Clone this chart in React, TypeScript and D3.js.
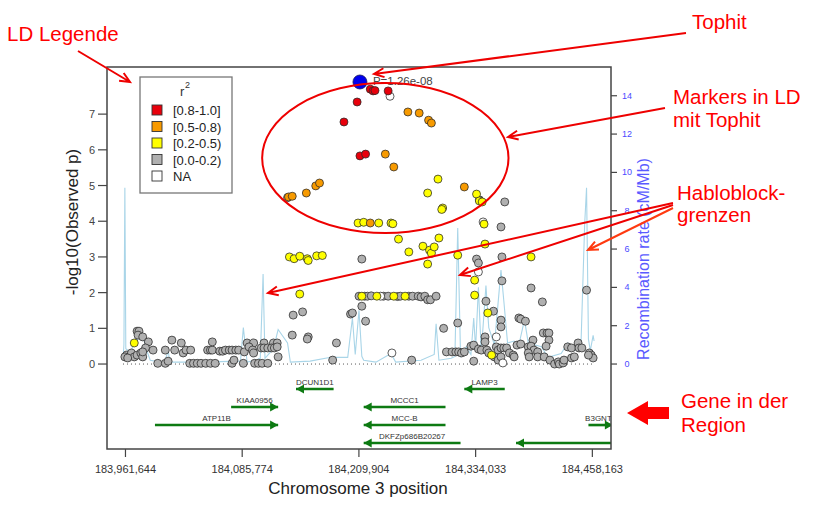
import React from "react";
import * as d3 from "d3";

const W = 813;
const H = 506;
const FONT = "'Liberation Sans', Arial, Helvetica, sans-serif";

// axes
const xTickBp = [183961644, 184085774, 184209904, 184334033, 184458163];
const logPTicks = [0, 1, 2, 3, 4, 5, 6, 7];
const recTicks = [0, 2, 4, 6, 8, 10, 12, 14];

// LD legend
const ldLabels = ["[0.8-1.0]", "[0.5-0.8)", "[0.2-0.5)", "[0.0-0.2)", "NA"];
const ldColors = ["#e8000b", "#f79a00", "#ffff00", "#b0b0b0", "#ffffff"];

// markers, position in kb, value = -log10(p)
const redPos = [184222, 184225, 184227, 184241, 184208, 184194, 184211, 184217];
const redLogP = [7.7, 7.65, 7.66, 7.65, 7.34, 6.78, 5.83, 5.88];

const orangePos = [184262, 184274, 184284, 184287, 184238, 184247, 184135, 184139, 184154, 184164, 184168, 184222, 184322];
const orangeLogP = [7.06, 7.03, 6.83, 6.75, 5.88, 5.52, 4.68, 4.7, 4.79, 4.99, 5.07, 3.95, 4.96];

const yellowPos = [
  184209, 184215, 184231, 184244, 184246, 184294, 184283, 184335, 184338, 184341, 184299, 184298, 184343,
  184252, 184263, 184278, 184285, 184287, 184290, 184295, 184283, 184315, 184344, 184333, 184333, 184347, 184393,
  184136, 184141, 184147, 184155, 184156, 184165, 184171, 184147, 183971, 184213, 184229, 184247, 184259, 184351,
];
const yellowLogP = [
  3.95, 3.97, 3.95, 3.95, 3.93, 5.18, 4.79, 4.76, 4.57, 4.54, 4.37, 4.33, 3.92,
  3.5, 3.14, 3.3, 3.19, 3.1, 3.28, 3.53, 2.8, 3.05, 3.36, 2.35, 1.93, 1.43, 3.0,
  3.0, 2.95, 3.02, 2.95, 2.9, 3.03, 3.04, 1.96, 0.59, 1.9, 1.9, 1.9, 1.9, 0.25,
];

const naPos = [184243, 184342, 184337, 184233, 184245, 184356, 184363];
const naLogP = [7.5, 3.98, 2.58, 1.9, 0.31, 0.76, 0.03];

const grayPos = [
  184213, 184335, 184337, 184362, 184361, 184365, 184338, 184362, 184393, 184405, 184345, 184353, 184361, 184361,
  184380, 184382, 184387, 184452, 184300, 184315, 184140, 184150, 184139, 184156, 184155, 184186, 184182, 184201,
  184203, 184213, 184217, 184134,
  184210, 184216, 184219, 184223, 184236, 184241, 184251, 184254, 184263, 184267, 184273, 184276, 184280, 184283,
  184286, 184292,
  183974, 183976, 183975, 183980, 183986, 183963, 183968, 183971, 183974, 183978, 183980, 183983, 183980, 183961,
  183964, 183991, 184004, 184011, 184014, 184021, 184023, 184026, 184031, 183996, 184004, 184007, 184030, 184034,
  184038, 184042, 184047, 184052, 184057, 184049, 184052, 184054, 184054, 184062, 184065, 184068, 184072, 184075,
  184079, 184082, 184075, 184077, 184087, 184088, 184091, 184098, 184093, 184097, 184098, 184099, 184103, 184107,
  184113, 184109, 184119, 184123, 184106, 184109, 184113, 184117, 184120, 184123, 184124,
  184344, 184344, 184329, 184332, 184303, 184309, 184313, 184316, 184319, 184322, 184266, 184332, 184337, 184340,
  184346, 184348, 184356, 184358, 184361, 184364, 184367, 184370, 184374, 184375, 184354, 184358, 184361, 184378,
  184382, 184390, 184395, 184393, 184396, 184400, 184406, 184410, 184412, 184412, 184409, 184390, 184391, 184400,
  184407, 184413, 184418, 184422, 184423, 184427, 184428, 184436, 184439, 184432, 184436, 184443, 184444, 184447,
  184455, 184457, 184459, 184454,
];
const grayLogP = [
  2.94, 2.94, 2.83, 3.0, 3.84, 4.54, 4.6, 2.33, 2.13, 1.74, 1.76, 1.48, 1.23, 1.04,
  1.29, 1.26, 1.2, 2.07, 1.0, 1.15, 1.37, 1.46, 0.81, 0.76, 0.7, 0.59, 0.11, 1.4,
  1.43, 1.62, 1.2, 4.66,
  1.9, 1.9, 1.9, 1.91, 1.9, 1.9, 1.89, 1.9, 1.9, 1.9, 1.9, 1.88, 1.9, 1.8,
  1.8, 1.9,
  0.92, 0.92, 0.81, 0.76, 0.62, 0.25, 0.31, 0.2, 0.25, 0.31, 0.2, 0.45, 0.34, 0.2,
  0.17, 0.39, 0.39, 0.67, 0.39, 0.59, 0.31, 0.39, 0.39, 0.02, 0.02, 0.08, 0.02, 0.02,
  0.02, 0.02, 0.02, 0.02, 0.02, 0.39, 0.39, 0.39, 0.62, 0.36, 0.36, 0.39, 0.39, 0.39,
  0.39, 0.39, 0.02, 0.11, 0.02, 0.34, 0.59, 0.59, 0.48, 0.39, 0.31, 0.02, 0.02, 0.02,
  0.02, 0.59, 0.59, 0.59, 0.45, 0.45, 0.45, 0.45, 0.45, 0.48, 0.2,
  0.76, 0.62, 0.5, 0.53, 0.34, 0.34, 0.34, 0.34, 0.31, 0.34, 0.11, 0.08, 0.42, 0.39,
  0.39, 0.31, 0.48, 0.39, 0.45, 0.45, 0.45, 0.31, 0.25, 0.2, 0.2, 0.11, 0.2, 0.53,
  0.56, 0.48, 0.67, 0.5, 0.39, 0.34, 0.87, 0.87, 0.87, 0.67, 0.5, 0.31, 0.2, 0.2,
  0.2, 0.11, 0.0, 0.06, 0.0, 0.03, 0.11, 0.17, 0.2, 0.48, 0.45, 0.59, 0.45, 0.45,
  0.31, 0.25, 0.17, 0.25,
];

const topPos = 184211;
const topLogP = 7.9;
const topLabel = "P=1.26e-08";

// recombination rate (cM/Mb)
const recPos = [
  183959, 183960, 183961, 183962, 183967, 183972, 183980, 183985, 183988, 183999, 184004, 184007, 184009, 184041,
  184084, 184087, 184091, 184100, 184105, 184108, 184110, 184119, 184124, 184134, 184137, 184158, 184180, 184198,
  184203, 184206, 184210, 184213, 184215, 184228, 184244, 184249, 184276, 184290, 184292, 184295, 184308, 184312,
  184315, 184318, 184324, 184329, 184332, 184334, 184337, 184340, 184345, 184348, 184354, 184361, 184364, 184368,
  184375, 184380, 184386, 184390, 184404, 184411, 184425, 184432, 184439, 184446, 184450, 184452, 184454, 184456,
  184459, 184460,
];
const recRate = [
  0.2, 1.0, 9.2, 0.8, 0.6, 1.2, 1.5, 0.6, 0.2, 0.1, 0.2, 0.7, 0.1, 0.1,
  0.15, 1.9, 0.1, 0.2, 0.3, 4.7, 0.3, 0.8, 1.8, 1.1, 0.1, 0.15, 0.35, 0.35,
  2.4, 0.5, 2.8, 0.4, 0.2, 0.1, 0.55, 0.1, 0.2, 0.5, 2.1, 0.2, 0.3, 0.4,
  7.1, 0.4, 0.9, 0.5, 2.4, 0.8, 4.0, 0.6, 4.1, 1.9, 1.0, 4.9, 3.3, 1.1,
  1.2, 1.0, 2.3, 1.1, 0.9, 0.35, 0.55, 1.1, 0.7, 0.9, 7.3, 9.2, 1.3, 0.7,
  1.5, 1.2,
];

// genes (kb), strand +1 = arrow right
const geneNames = ["DCUN1D1", "LAMP3", "KIAA0956", "MCCC1", "ATP11B", "MCC-B", "B3GNT5", "DKFZp686B20267", ""];
const geneStart = [184143, 184322, 184074, 184215, 183993, 184215, 184454, 184215, 184377];
const geneEnd = [184183, 184365, 184124, 184302, 184124, 184302, 184480, 184318, 184520];
const geneStrand = [-1, -1, 1, -1, 1, -1, 1, -1, -1];
const geneRow = [0, 0, 1, 1, 2, 2, 2, 3, 3];

// callout annotations (page layout)
const calloutArrows = [
  [78, 51, 130, 82],
  [686, 33, 374, 74],
  [665, 108, 508, 137],
  [673, 203, 268, 293],
  [673, 205, 460, 275],
  [673, 208, 588, 250],
];
const calloutTexts: [string, number, number][] = [
  ["LD Legende", 7, 41],
  ["Tophit", 692, 29],
  ["Markers in LD", 673, 104],
  ["mit Tophit", 673, 127],
  ["Habloblock-", 677, 200],
  ["grenzen", 677, 222],
  ["Gene in der", 681, 408],
  ["Region", 681, 432],
];

const margin = { left: 107, right: 611, top: 67, bottom: 449 };

function arrowPath(x1: number, y1: number, x2: number, y2: number) {
  const a = Math.atan2(y2 - y1, x2 - x1);
  const len = 11;
  const s = 0.42;
  const ax = x2 - len * Math.cos(a - s);
  const ay = y2 - len * Math.sin(a - s);
  const bx = x2 - len * Math.cos(a + s);
  const by = y2 - len * Math.sin(a + s);
  return `M${x1},${y1}L${x2},${y2}M${ax},${ay}L${x2},${y2}L${bx},${by}`;
}

export default function App() {
  const xScale = d3.scaleLinear().domain([183942, 184478]).range([margin.left, margin.right]);
  const yScale = d3.scaleLinear().domain([-2.38, 8.32]).range([margin.bottom, margin.top]);
  const recScale = d3.scaleLinear().domain([0, 15.5]).range([yScale(0), margin.top]);
  const y0 = yScale(0);

  const recLine = d3
    .line<number>()
    .x((_, i) => xScale(recPos[i]))
    .y((d) => recScale(d));

  const groups = [
    { pos: grayPos, val: grayLogP, color: ldColors[3] },
    { pos: naPos, val: naLogP, color: ldColors[4] },
    { pos: yellowPos, val: yellowLogP, color: ldColors[2] },
    { pos: orangePos, val: orangeLogP, color: ldColors[1] },
    { pos: redPos, val: redLogP, color: ldColors[0] },
  ];

  const geneY = (row: number) => y0 + 25 + row * 18;
  const green = "#0d7a12";

  // ellipse around markers in LD with the top hit
  const ellX = 184238;
  const ellY = 5.77;
  const ellRx = xScale(ellX + 131) - xScale(ellX);
  const ellRy = yScale(ellY) - yScale(ellY + 2.1);

  return (
    <svg
      width={W}
      height={H}
      style={{ position: "fixed", left: 0, top: 0, background: "#fff", fontFamily: FONT }}
    >
      <defs>
        <clipPath id="plotClip">
          <rect x={margin.left} y={margin.top} width={margin.right - margin.left} height={margin.bottom - margin.top} />
        </clipPath>
      </defs>

      <g clipPath="url(#plotClip)">
        <path d={recLine(recRate) || ""} fill="none" stroke="#a9d5e8" strokeWidth={1.1} />
        <line
          x1={xScale(183959)}
          x2={xScale(184460)}
          y1={y0}
          y2={y0}
          stroke="#555"
          strokeWidth={1}
          strokeDasharray="1 3"
        />
        {groups.map((g, gi) =>
          g.pos.map((p, i) => (
            <circle
              key={`${gi}-${i}`}
              cx={xScale(p)}
              cy={yScale(g.val[i])}
              r={4}
              fill={g.color}
              stroke="#2a2a2a"
              strokeOpacity={0.85}
              strokeWidth={0.9}
            />
          ))
        )}
        <circle cx={xScale(topPos)} cy={yScale(topLogP)} r={7} fill="#0000ee" stroke="#1a1a5a" strokeWidth={0.8} />
        <text x={xScale(topPos) + 13} y={yScale(topLogP) + 3} fontSize={11.5} fill="#444">
          {topLabel}
        </text>

        {geneNames.map((name, i) => {
          const xs = xScale(geneStart[i]);
          const xe = xScale(geneEnd[i]);
          const y = geneY(geneRow[i]);
          const tip = geneStrand[i] > 0 ? xe : xs;
          const dir = geneStrand[i] > 0 ? 1 : -1;
          return (
            <g key={i}>
              <line x1={xs} x2={xe} y1={y} y2={y} stroke={green} strokeWidth={2.6} />
              <path
                d={`M${tip},${y}L${tip - dir * 8},${y - 4.5}L${tip - dir * 8},${y + 4.5}Z`}
                fill={green}
              />
              {name && (
                <text x={(xs + xe) / 2} y={y - 4} fontSize={8} textAnchor="middle" fill="#333">
                  {name}
                </text>
              )}
            </g>
          );
        })}
      </g>

      {/* frame */}
      <rect
        x={margin.left}
        y={margin.top}
        width={margin.right - margin.left}
        height={margin.bottom - margin.top}
        fill="none"
        stroke="#444"
        strokeWidth={1.5}
      />

      {/* left axis */}
      {logPTicks.map((t) => (
        <g key={t}>
          <line x1={margin.left - 9} x2={margin.left} y1={yScale(t)} y2={yScale(t)} stroke="#444" strokeWidth={1.2} />
          <text x={margin.left - 15} y={yScale(t) + 4} fontSize={11} textAnchor="middle" fill="#444">
            {t}
          </text>
        </g>
      ))}
      <text
        transform={`translate(78,222) rotate(-90)`}
        fontSize={17}
        textAnchor="middle"
        fill="#222"
      >
        -log10(Observed p)
      </text>

      {/* right axis */}
      {recTicks.map((t) => (
        <g key={t}>
          <line x1={margin.right} x2={margin.right + 6} y1={recScale(t)} y2={recScale(t)} stroke="#444" strokeWidth={1.2} />
          <text x={margin.right + 16} y={recScale(t) + 3} fontSize={9} textAnchor="middle" fill="#4a4aff">
            {t}
          </text>
        </g>
      ))}
      <text
        transform={`translate(649,259) rotate(-90)`}
        fontSize={16}
        textAnchor="middle"
        fill="#5a5aff"
      >
        Recombination rate (cM/Mb)
      </text>

      {/* bottom axis */}
      {xTickBp.map((t) => (
        <g key={t}>
          <line
            x1={xScale(t / 1000)}
            x2={xScale(t / 1000)}
            y1={margin.bottom}
            y2={margin.bottom + 8}
            stroke="#444"
            strokeWidth={1.2}
          />
          <text x={xScale(t / 1000)} y={margin.bottom + 24} fontSize={11} textAnchor="middle" fill="#333">
            {d3.format(",")(t)}
          </text>
        </g>
      ))}
      <text x={358} y={494} fontSize={17} textAnchor="middle" fill="#222">
        Chromosome 3 position
      </text>

      {/* LD legend */}
      <g>
        <rect x={140} y={77} width={92} height={116} fill="#fff" stroke="#777" strokeWidth={1.3} />
        <text x={180} y={96} fontSize={13} fill="#333">
          r
        </text>
        <text x={185} y={88} fontSize={9} fill="#333">
          2
        </text>
        {ldLabels.map((l, i) => (
          <g key={l}>
            <rect x={152} y={105 + i * 16.5} width={10} height={10} fill={ldColors[i]} stroke="#333" strokeWidth={0.9} />
            <text x={173} y={115 + i * 16.5} fontSize={13} fill="#222">
              {l}
            </text>
          </g>
        ))}
      </g>

      {/* callouts */}
      <ellipse
        cx={xScale(ellX)}
        cy={yScale(ellY)}
        rx={ellRx}
        ry={ellRy}
        fill="none"
        stroke="#ee0000"
        strokeWidth={2}
      />
      {calloutArrows.map(([x1, y1, x2, y2], i) => (
        <path
          key={i}
          d={arrowPath(x1, y1, x2, y2)}
          fill="none"
          stroke={i === 5 ? "#ff3a10" : "#ee0000"}
          strokeWidth={2}
        />
      ))}
      {calloutTexts.map(([t, x, y]) => (
        <text key={t} x={x} y={y} fontSize={20.5} fill="#ff0000">
          {t}
        </text>
      ))}
      <path d="M627,413L648,401L648,407L669,407L669,419L648,419L648,425Z" fill="#ff0000" />
    </svg>
  );
}
